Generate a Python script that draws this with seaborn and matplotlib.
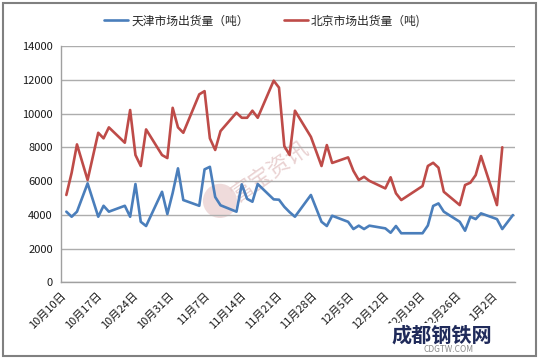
import pandas as pd
import numpy as np
import matplotlib.pyplot as plt
import matplotlib.patches as patches
import seaborn as sns

# Style
sns.set_style('white')
plt.rcParams['font.family'] = ['Noto Sans CJK SC', 'DejaVu Sans']

# Data: trading days counted from 2012-10-11, values in tonnes
days = [0, 1, 2, 4, 6, 7, 8,
        11, 12, 13, 14, 15,
        18, 19, 20, 21, 22,
        25, 26, 27, 28, 29,
        32, 33, 34, 35, 36,
        39, 40, 41, 42, 43,
        46, 48, 49, 50,
        53, 54, 55, 56, 57,
        60, 61, 62, 63,
        67, 68, 69, 70, 71,
        74, 75, 76, 77, 78,
        81, 82, 84]
tianjin = [4190, 3890, 4190, 5870, 3890, 4540, 4190,
           4540, 3890, 5830, 3590, 3340,
           5370, 4050, 5300, 6760, 4880,
           4540, 6700, 6850, 5060, 4570,
           4190, 5810, 4950, 4780, 5830,
           4920, 4900, 4480, 4160, 3890,
           5180, 3590, 3340, 3950,
           3590, 3160, 3360, 3160, 3360,
           3200, 2940, 3340, 2910,
           2910, 3370, 4530, 4680, 4190,
           3590, 3060, 3890, 3750, 4090,
           3750, 3160, 3990]
beijing = [5180, 6500, 8180, 6070, 8870, 8540, 9190,
           8280, 10220, 7550, 6900, 9070,
           7550, 7370, 10350, 9190, 8870,
           11150, 11340, 8540, 7850, 8970,
           10060, 9760, 9760, 10180, 9760,
           11960, 11550, 8080, 7550, 10180,
           8630, 6900, 8140, 7080,
           7410, 6610, 6070, 6260, 6020,
           5570, 6230, 5280, 4880,
           5710, 6900, 7090, 6800, 5370,
           4580, 5770, 5910, 6360, 7490,
           4580, 8010, np.nan]
tick_labels = ['10月10日', '10月17日', '10月24日', '10月31日', '11月7日', '11月14日',
               '11月21日', '11月28日', '12月5日', '12月12日', '12月19日', '12月26日', '1月2日']
series_names = ['天津市场出货量（吨）', '北京市场出货量（吨)']
colors = ['#4A7EBB', '#BE4B48']

start = pd.Timestamp('2012-10-11')
dates = start + pd.to_timedelta(days, unit='D')
df = pd.DataFrame({'date': list(dates) * 2,
                   'value': tianjin + beijing,
                   'series': [series_names[0]] * len(days) + [series_names[1]] * len(days)})

fig = plt.figure(figsize=(5.41, 3.6), dpi=100)
ax = fig.add_axes([0.1128, 0.2158, 0.8392, 0.6556])

# faint watermark behind the lines
ax.add_patch(patches.Ellipse((0.35, 0.345), 0.075, 0.145, transform=ax.transAxes,
                             facecolor='#EBD3D3', edgecolor='none', alpha=0.8, zorder=0))
ax.text(0.46, 0.47, '富宝资讯', transform=ax.transAxes, fontsize=16, color='#E6CACA',
        alpha=0.85, rotation=35, ha='center', va='center', zorder=0)

sns.lineplot(data=df, x='date', y='value', hue='series', palette=colors,
             linewidth=1.9, legend=False, ax=ax)

# axes
ax.set_ylim(0, 14000)
ax.set_yticks(range(0, 14001, 2000))
ax.set_xlim(start - pd.Timedelta(days=1), start + pd.Timedelta(days=84.4))
# the reference's tick marks sit a little closer together than a true week
tick_pos = [start - pd.Timedelta(days=1) + pd.Timedelta(days=6.75 * k) for k in range(len(tick_labels))]
ax.set_xticks(tick_pos)
ax.set_xticklabels(tick_labels, rotation=45, ha='right', rotation_mode='anchor')
ax.set_xlabel('')
ax.set_ylabel('')
ax.grid(axis='y', color='#ADADAD', linewidth=1.0)
ax.set_axisbelow(True)
for s in ['top', 'right']:
    ax.spines[s].set_visible(False)
for s in ['left', 'bottom']:
    ax.spines[s].set_color('#A0A0A0')
    ax.spines[s].set_linewidth(1.0)
ax.tick_params(axis='both', direction='out', length=3, color='#A0A0A0',
               labelsize=8, labelcolor='#1A1A1A', pad=3)
for lbl in ax.get_yticklabels():
    lbl.set_fontweight('medium')

# legend at the top
handles = ax.get_lines()[:2]
fig.legend(handles, series_names, loc='center', bbox_to_anchor=(0.485, 0.942), ncol=2,
           frameon=False, fontsize=8.5, handlelength=2.0, handletextpad=0.3,
           columnspacing=3.0)

# site logo, bottom right
fig.text(0.817, 0.07, '成都钢铁网', fontsize=14.5, fontweight='bold', color='#1F2A5A',
         ha='center', va='center',
         bbox=dict(facecolor='white', edgecolor='none', pad=1))
fig.text(0.83, 0.028, 'CDGTW.COM', fontsize=6, color='#8A8A8A', ha='center', va='center')

# chart-area border
fig.patches.append(patches.Rectangle((0.006, 0.01), 0.984, 0.982, transform=fig.transFigure,
                                     fill=False, edgecolor='#808080', linewidth=1.5))

plt.savefig('out.png', dpi=100)
